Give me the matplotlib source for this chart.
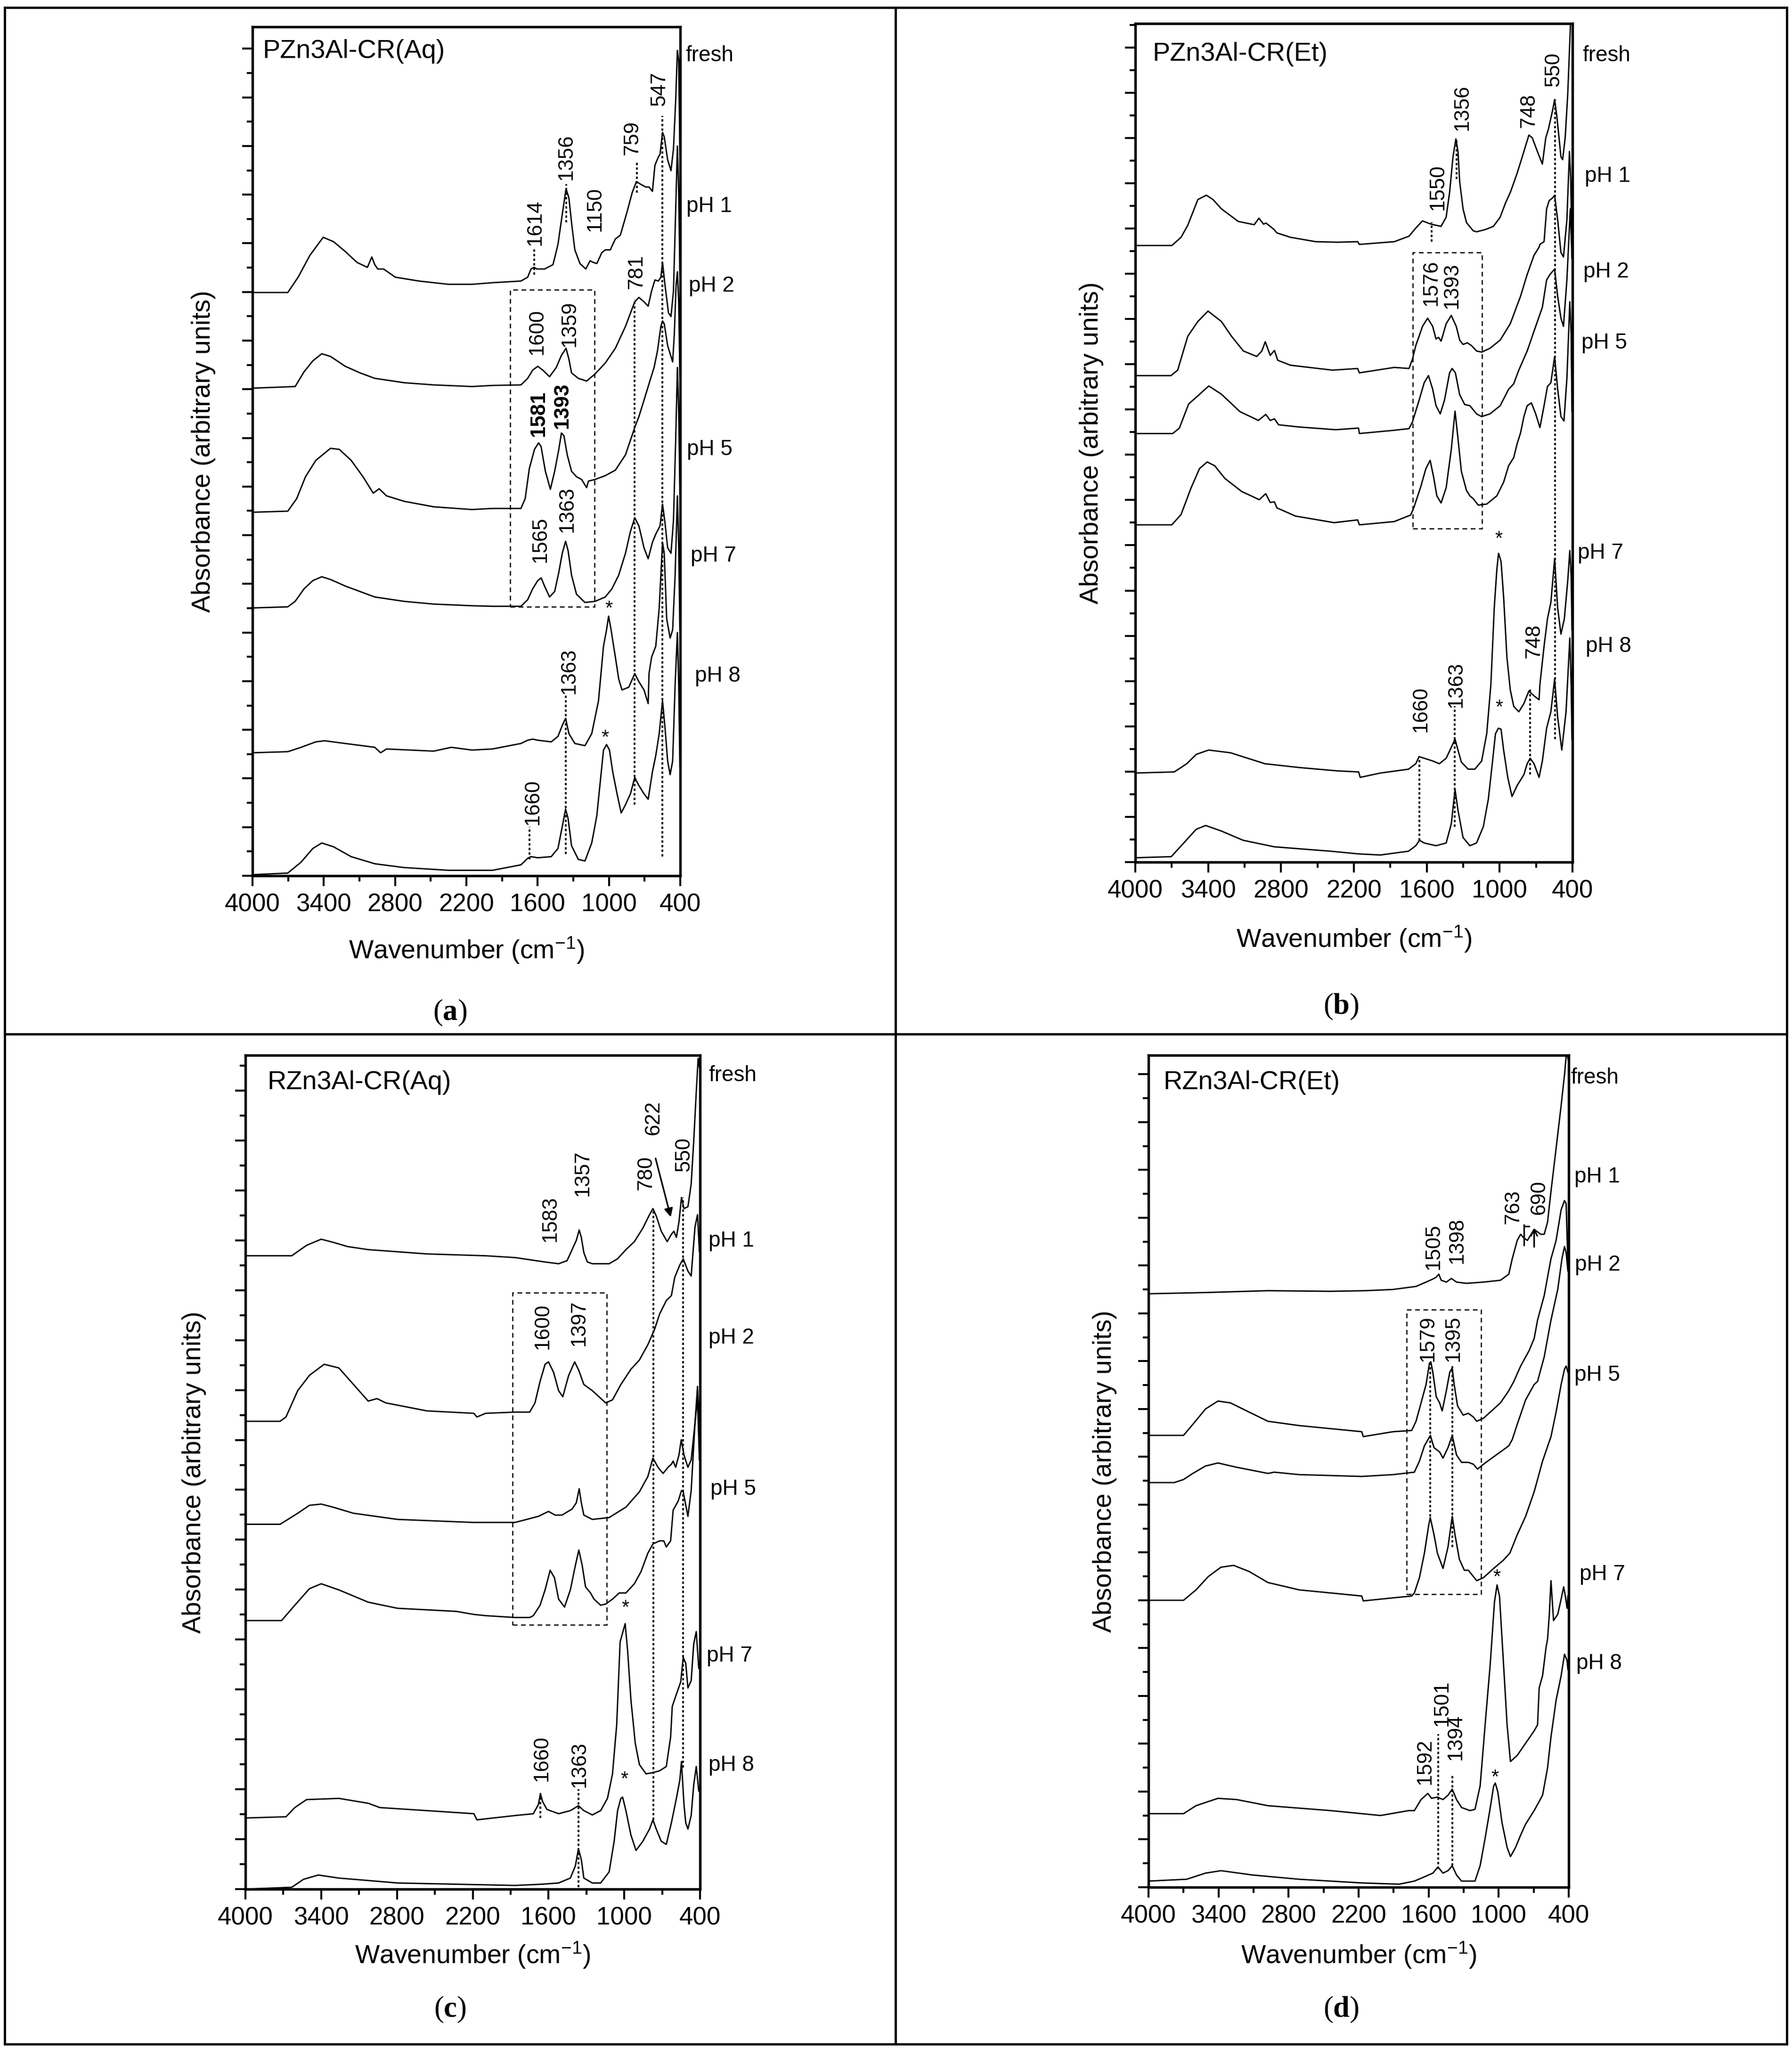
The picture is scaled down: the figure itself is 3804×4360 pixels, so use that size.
import numpy as np
import matplotlib.pyplot as plt
from matplotlib.ticker import FixedLocator, MultipleLocator
from matplotlib.lines import Line2D
from matplotlib.patches import Rectangle

plt.rcParams['font.family'] = ['Liberation Sans', 'DejaVu Sans']
plt.rcParams['mathtext.fontset'] = 'custom'
plt.rcParams['mathtext.rm'] = 'Liberation Sans'
plt.rcParams['mathtext.it'] = 'Liberation Sans:italic'
plt.rcParams['mathtext.bf'] = 'Liberation Serif:bold'

# ---------------- data (wavenumber / absorbance, arbitrary units) ----------------
SAMPLES = ['fresh', 'pH 1', 'pH 2', 'pH 5', 'pH 7', 'pH 8']
XMAJ = [4000, 3400, 2800, 2200, 1600, 1000, 400]
XMIN = [3700, 3100, 2500, 1900, 1300, 700]

# (a) PZn3Al-CR(Aq)
A_FRESH_WN = [4000, 3703, 3616, 3517, 3405, 3318, 3219, 3120, 3033, 2996, 2971, 2946, 2897, 2798, 2599, 2351, 2153, 1980, 1741, 1684, 1656, 1630, 1606, 1542, 1471, 1429, 1393, 1361, 1337, 1315, 1287, 1244, 1195, 1159, 1131, 1102, 1060, 1031, 989, 946, 904, 847, 804, 769, 733, 691, 663, 634, 613, 584, 570, 549, 535, 506, 478, 457, 438, 424, 413, 403]
A_FRESH_AB = [1067, 1067, 1095, 1135, 1168, 1160, 1142, 1122, 1113, 1132, 1118, 1110, 1110, 1095, 1088, 1082, 1082, 1085, 1088, 1095, 1110, 1113, 1110, 1110, 1118, 1155, 1210, 1257, 1240, 1195, 1145, 1120, 1110, 1125, 1122, 1120, 1140, 1145, 1145, 1165, 1172, 1215, 1250, 1270, 1265, 1260, 1260, 1252, 1300, 1315, 1320, 1360, 1352, 1310, 1290, 1330, 1420, 1510, 1490, 1320]
A_PH1_WN = [4000, 3641, 3566, 3492, 3417, 3343, 3219, 3095, 2971, 2723, 2475, 2153, 1980, 1741, 1684, 1642, 1599, 1557, 1500, 1443, 1400, 1361, 1337, 1315, 1258, 1188, 1117, 1031, 946, 861, 783, 748, 705, 670, 641, 613, 584, 563, 549, 528, 499, 478, 457, 438, 424, 413, 403]
A_PH1_AB = [892, 895, 922, 942, 955, 950, 932, 920, 910, 902, 898, 895, 897, 898, 910, 925, 932, 925, 913, 930, 952, 965, 945, 920, 910, 905, 918, 938, 965, 1005, 1050, 1058, 1050, 1042, 1070, 1090, 1088, 1095, 1122, 1080, 1030, 1023, 1070, 1220, 1335, 1250, 1100]
A_PH2_WN = [4000, 3703, 3628, 3554, 3467, 3343, 3269, 3170, 3070, 2984, 2934, 2872, 2723, 2475, 2153, 1980, 1741, 1705, 1670, 1627, 1592, 1571, 1535, 1493, 1457, 1422, 1400, 1379, 1351, 1315, 1273, 1230, 1188, 1173, 1117, 1031, 946, 861, 783, 748, 705, 663, 620, 592, 563, 549, 535, 506, 464, 450, 435, 424, 413, 403]
A_PH2_AB = [665, 667, 690, 730, 760, 782, 780, 760, 730, 700, 708, 695, 685, 675, 670, 672, 672, 690, 745, 780, 792, 785, 740, 707, 740, 780, 810, 805, 770, 740, 730, 725, 710, 722, 725, 732, 742, 770, 820, 840, 870, 900, 930, 960, 1005, 1015, 1010, 970, 940, 990, 1080, 1105, 1050, 910]
A_PH5_WN = [4000, 3703, 3641, 3566, 3492, 3417, 3343, 3219, 3095, 2971, 2723, 2475, 2153, 1980, 1741, 1684, 1642, 1599, 1571, 1542, 1500, 1457, 1422, 1393, 1365, 1344, 1315, 1273, 1202, 1117, 1031, 975, 918, 861, 819, 783, 748, 705, 670, 634, 606, 570, 549, 528, 506, 478, 457, 438, 424, 413, 403]
A_PH5_AB = [490, 492, 502, 525, 540, 547, 542, 530, 520, 510, 502, 497, 494, 493, 493, 505, 525, 540, 545, 530, 510, 520, 555, 590, 612, 595, 550, 515, 500, 502, 510, 525, 550, 590, 630, 655, 640, 600, 580, 610, 625, 640, 680, 645, 600, 590, 650, 800, 930, 850, 700]
A_PH7_WN = [4000, 3703, 3591, 3467, 3393, 3219, 2971, 2922, 2872, 2475, 2327, 2153, 1980, 1741, 1684, 1642, 1599, 1486, 1429, 1393, 1365, 1337, 1287, 1202, 1145, 1088, 1046, 1020, 1003, 982, 946, 918, 890, 833, 783, 748, 705, 670, 663, 641, 606, 577, 549, 535, 514, 485, 464, 443, 424, 413, 403]
A_PH7_AB = [225, 227, 235, 245, 247, 242, 235, 225, 232, 228, 235, 230, 232, 242, 248, 250, 248, 245, 255, 275, 288, 260, 242, 238, 260, 320, 420, 450, 475, 450, 400, 360, 340, 345, 370, 355, 340, 315, 370, 400, 420, 490, 610, 590, 470, 435, 450, 550, 695, 600, 450]
A_PH8_WN = [4000, 3703, 3591, 3492, 3417, 3318, 3170, 2971, 2723, 2351, 1980, 1741, 1684, 1656, 1599, 1486, 1429, 1393, 1365, 1344, 1315, 1258, 1202, 1145, 1102, 1074, 1046, 1020, 996, 968, 932, 897, 861, 819, 783, 748, 705, 670, 634, 606, 577, 549, 528, 506, 485, 464, 443, 424, 413, 403]
A_PH8_AB = [2, 5, 25, 50, 60, 53, 35, 22, 15, 10, 10, 20, 32, 35, 33, 35, 50, 90, 122, 105, 55, 30, 27, 60, 110, 170, 230, 240, 230, 190, 150, 115, 130, 150, 180, 165, 150, 140, 190, 220, 260, 320, 270, 210, 185, 210, 350, 445, 350, 200]

# (b) PZn3Al-CR(Et)
B_FRESH_WN = [4000, 3699, 3623, 3568, 3485, 3415, 3360, 3291, 3152, 3021, 2982, 2944, 2924, 2861, 2834, 2723, 2515, 2335, 2169, 2155, 1867, 1746, 1690, 1635, 1565, 1524, 1482, 1440, 1412, 1384, 1360, 1343, 1329, 1301, 1273, 1218, 1190, 1120, 1051, 995, 953, 912, 856, 800, 759, 731, 689, 648, 620, 599, 564, 547, 529, 495, 481, 460, 439, 418, 408]
B_FRESH_AB = [1128, 1128, 1143, 1165, 1212, 1220, 1212, 1195, 1172, 1166, 1178, 1167, 1169, 1158, 1151, 1143, 1135, 1134, 1135, 1130, 1135, 1145, 1160, 1173, 1167, 1165, 1163, 1180, 1225, 1290, 1323, 1300, 1245, 1195, 1170, 1155, 1153, 1157, 1163, 1180, 1205, 1225, 1260, 1300, 1330, 1325, 1300, 1277, 1325, 1340, 1375, 1395, 1365, 1290, 1285, 1325, 1405, 1525, 1625]
B_PH1_WN = [4000, 3706, 3651, 3568, 3485, 3401, 3291, 3208, 3110, 3000, 2958, 2930, 2889, 2854, 2827, 2723, 2376, 2169, 2155, 1867, 1746, 1718, 1690, 1635, 1593, 1551, 1524, 1503, 1482, 1440, 1398, 1357, 1329, 1301, 1266, 1232, 1190, 1148, 1079, 995, 912, 828, 773, 717, 675, 668, 634, 613, 592, 564, 547, 522, 495, 474, 446, 425, 414, 404]
B_PH1_AB = [890, 890, 900, 962, 989, 1008, 989, 962, 935, 925, 935, 952, 927, 936, 918, 909, 900, 903, 895, 905, 903, 920, 945, 980, 995, 980, 957, 960, 953, 985, 1000, 980, 955, 947, 950, 945, 935, 933, 940, 955, 985, 1035, 1075, 1110, 1125, 1130, 1135, 1195, 1210, 1215, 1220, 1175, 1115, 1107, 1175, 1300, 1245, 1105]
B_PH2_WN = [4000, 3692, 3637, 3561, 3485, 3395, 3291, 3138, 2986, 2926, 2889, 2854, 2820, 2653, 2349, 2162, 2155, 1867, 1746, 1718, 1663, 1621, 1586, 1551, 1524, 1489, 1454, 1412, 1391, 1364, 1329, 1287, 1245, 1190, 1148, 1079, 995, 926, 884, 842, 773, 703, 648, 613, 585, 547, 522, 495, 474, 446, 418, 404]
B_PH2_AB = [784, 784, 794, 838, 853, 871, 856, 824, 808, 819, 808, 811, 800, 796, 791, 794, 784, 790, 793, 805, 845, 877, 890, 865, 835, 820, 845, 895, 903, 895, 855, 837, 835, 820, 815, 820, 835, 865, 875, 900, 935, 980, 1015, 1065, 1075, 1085, 1035, 995, 980, 1065, 1195, 1105]
B_PH5_WN = [4000, 3699, 3623, 3540, 3471, 3408, 3346, 3263, 3124, 2979, 2926, 2889, 2854, 2834, 2681, 2363, 2169, 2155, 1867, 1732, 1704, 1649, 1607, 1572, 1544, 1517, 1482, 1440, 1398, 1367, 1343, 1315, 1273, 1245, 1218, 1176, 1106, 1023, 967, 926, 884, 856, 828, 800, 773, 738, 703, 668, 634, 606, 578, 547, 522, 495, 470, 446, 422, 411, 404]
B_PH5_AB = [617, 617, 636, 685, 720, 732, 725, 702, 678, 663, 674, 658, 659, 648, 633, 621, 626, 617, 623, 635, 650, 687, 720, 735, 705, 670, 657, 685, 755, 825, 775, 715, 680, 670, 665, 653, 655, 670, 695, 725, 740, 765, 785, 815, 835, 840, 820, 795, 835, 870, 877, 925, 865, 815, 807, 885, 1025, 965, 825]
B_PH7_WN = [4000, 3679, 3576, 3499, 3396, 3216, 2933, 2650, 2341, 2161, 2148, 1981, 1750, 1690, 1663, 1621, 1551, 1496, 1440, 1398, 1367, 1343, 1315, 1259, 1204, 1148, 1106, 1072, 1044, 1023, 1009, 988, 967, 940, 912, 884, 842, 800, 759, 745, 710, 675, 668, 634, 606, 578, 547, 522, 495, 467, 439, 422, 411, 404]
B_PH7_AB = [163, 165, 180, 197, 205, 200, 180, 173, 167, 165, 155, 163, 170, 180, 193, 190, 185, 180, 190, 210, 225, 205, 183, 170, 170, 185, 235, 325, 465, 535, 565, 550, 485, 375, 315, 285, 275, 290, 313, 310, 303, 297, 325, 395, 445, 475, 555, 465, 417, 445, 515, 570, 525, 425]
B_PH8_WN = [4000, 3704, 3601, 3499, 3421, 3293, 3113, 2856, 2393, 2161, 1981, 1750, 1690, 1660, 1621, 1524, 1440, 1398, 1367, 1343, 1301, 1245, 1190, 1134, 1093, 1058, 1034, 1009, 988, 967, 933, 898, 856, 800, 773, 748, 717, 675, 648, 613, 578, 547, 522, 488, 453, 422, 411, 404]
B_PH8_AB = [8, 10, 35, 60, 67, 57, 40, 28, 20, 15, 13, 20, 30, 40, 35, 30, 35, 70, 133, 95, 45, 30, 35, 65, 115, 185, 235, 245, 243, 205, 155, 120, 140, 160, 180, 190, 180, 155, 185, 245, 275, 335, 265, 205, 275, 410, 325, 225]

# (c) RZn3Al-CR(Aq)
C_FRESH_WN = [4000, 3633, 3516, 3400, 3307, 3191, 3028, 2563, 2098, 1865, 1633, 1520, 1453, 1413, 1380, 1357, 1340, 1320, 1293, 1253, 1120, 1053, 987, 920, 853, 800, 773, 747, 707, 660, 627, 607, 587, 567, 547, 527, 496, 470, 450, 430, 415, 405]
C_FRESH_AB = [1033, 1033, 1050, 1060, 1055, 1048, 1043, 1036, 1033, 1030, 1023, 1020, 1025, 1043, 1058, 1075, 1063, 1038, 1023, 1020, 1020, 1028, 1043, 1056, 1078, 1100, 1110, 1098, 1073, 1056, 1068, 1073, 1063, 1088, 1128, 1110, 1113, 1150, 1220, 1300, 1355, 1340]
C_PH1_WN = [4000, 3726, 3679, 3586, 3493, 3377, 3260, 3144, 3028, 2958, 2888, 2563, 2191, 2167, 2098, 1865, 1749, 1707, 1667, 1627, 1600, 1560, 1520, 1487, 1440, 1393, 1360, 1320, 1253, 1200, 1147, 1093, 1027, 947, 880, 813, 760, 720, 667, 627, 600, 560, 533, 496, 470, 440, 420, 405]
C_PH1_AB = [763, 763, 770, 813, 838, 856, 850, 823, 796, 800, 793, 780, 776, 770, 776, 778, 778, 793, 828, 856, 860, 843, 813, 803, 838, 860, 846, 823, 813, 803, 793, 798, 823, 848, 863, 888, 913, 938, 960, 968, 998, 1018, 1028, 1008, 1000, 1080, 1100, 1040]
C_PH2_WN = [4000, 3726, 3586, 3493, 3400, 3307, 3144, 2795, 2191, 1865, 1680, 1600, 1547, 1493, 1413, 1380, 1357, 1340, 1320, 1253, 1120, 987, 880, 813, 773, 733, 693, 653, 627, 613, 593, 567, 549, 527, 496, 470, 440, 420, 405]
C_PH2_AB = [595, 595, 613, 626, 628, 623, 613, 603, 598, 598, 608, 616, 610, 610, 620, 630, 653, 630, 610, 603, 606, 623, 648, 673, 703, 688, 678, 688, 693, 698, 688, 708, 733, 708, 688, 700, 760, 820, 760]
C_PH5_WN = [4000, 3714, 3609, 3493, 3400, 3260, 3028, 2795, 2330, 2191, 2098, 1865, 1749, 1720, 1667, 1627, 1587, 1553, 1520, 1473, 1427, 1387, 1360, 1333, 1307, 1267, 1240, 1187, 1147, 1093, 1040, 987, 920, 867, 813, 773, 720, 687, 667, 633, 613, 573, 547, 533, 496, 470, 440, 420, 405]
C_PH5_AB = [438, 438, 463, 490, 498, 488, 468, 458, 453, 448, 446, 443, 443, 446, 463, 488, 520, 508, 473, 460, 488, 528, 553, 528, 493, 483, 473, 463, 465, 473, 483, 483, 498, 518, 548, 563, 568, 568, 558, 568, 618, 633, 650, 648, 608, 650, 760, 800, 700]
C_PH7_WN = [4000, 3679, 3609, 3516, 3260, 3028, 2935, 2563, 2191, 2167, 1865, 1720, 1680, 1664, 1647, 1613, 1520, 1427, 1363, 1320, 1253, 1187, 1133, 1093, 1060, 1033, 1013, 993, 973, 947, 913, 880, 827, 773, 720, 667, 633, 620, 587, 553, 533, 513, 496, 470, 450, 430, 410]
C_PH7_AB = [116, 118, 133, 146, 148, 140, 133, 128, 123, 113, 120, 123, 138, 156, 143, 130, 123, 128, 136, 128, 121, 128, 148, 188, 268, 403, 418, 433, 388, 308, 238, 203, 188, 190, 193, 200, 248, 298, 318, 338, 378, 368, 328, 340, 400, 420, 360]
C_PH8_WN = [4000, 3633, 3540, 3423, 3260, 2795, 1865, 1653, 1520, 1427, 1387, 1363, 1340, 1320, 1253, 1187, 1120, 1080, 1053, 1027, 1013, 987, 947, 907, 853, 800, 773, 747, 707, 667, 627, 587, 560, 547, 527, 513, 496, 470, 450, 430, 410]
C_PH8_AB = [0, 3, 16, 23, 18, 10, 6, 8, 10, 18, 38, 66, 48, 18, 10, 10, 28, 78, 128, 148, 150, 128, 88, 63, 78, 98, 113, 98, 78, 73, 108, 148, 178, 208, 138, 108, 98, 120, 170, 200, 160]

# (d) RZn3Al-CR(Et)
D_FRESH_WN = [4000, 3512, 2977, 2441, 2142, 1905, 1708, 1622, 1564, 1535, 1513, 1492, 1448, 1405, 1361, 1275, 1130, 985, 913, 884, 841, 812, 790, 754, 696, 639, 610, 581, 552, 508, 465, 436, 422, 414, 400]
D_FRESH_AB = [968, 970, 973, 972, 973, 975, 980, 987, 992, 995, 1000, 990, 987, 993, 987, 985, 987, 990, 1000, 1025, 1055, 1065, 1060, 1055, 1073, 1065, 1065, 1085, 1135, 1205, 1275, 1325, 1355, 1360, 1345]
D_PH1_WN = [4000, 3700, 3620, 3512, 3405, 3298, 3138, 2977, 2709, 2173, 2160, 1905, 1745, 1708, 1665, 1622, 1593, 1581, 1564, 1535, 1506, 1484, 1448, 1419, 1398, 1381, 1352, 1304, 1260, 1217, 1188, 1130, 1072, 985, 913, 870, 812, 740, 696, 667, 610, 552, 508, 465, 436, 422, 407]
D_PH1_AB = [737, 737, 755, 780, 793, 790, 775, 760, 753, 743, 735, 743, 745, 760, 790, 820, 855, 857, 840, 800, 790, 777, 810, 840, 847, 820, 785, 770, 773, 767, 760, 765, 775, 790, 810, 825, 850, 875, 895, 925, 965, 1025, 1055, 1105, 1120, 1115, 1015]
D_PH2_WN = [4000, 3780, 3700, 3620, 3512, 3405, 3245, 2977, 2923, 2709, 2173, 1905, 1722, 1679, 1636, 1585, 1554, 1506, 1477, 1434, 1398, 1361, 1318, 1260, 1217, 1181, 1130, 1058, 985, 913, 884, 841, 769, 696, 667, 610, 552, 494, 458, 436, 422, 407]
D_PH2_AB = [660, 660, 665, 675, 687, 692, 685, 675, 677, 673, 670, 673, 677, 695, 720, 737, 717, 710, 700, 717, 737, 705, 693, 693, 690, 682, 690, 700, 710, 720, 730, 755, 795, 820, 825, 865, 925, 975, 1025, 1045, 1035, 1005]
D_PH5_WN = [4000, 3700, 3593, 3486, 3379, 3271, 3138, 2977, 2709, 2173, 2160, 1905, 1745, 1722, 1679, 1636, 1600, 1586, 1554, 1525, 1477, 1434, 1398, 1374, 1337, 1294, 1260, 1188, 1130, 1043, 962, 904, 841, 769, 696, 624, 552, 508, 465, 436, 422, 407]
D_PH5_AB = [468, 468, 485, 507, 522, 525, 515, 497, 485, 475, 467, 472, 475, 480, 505, 545, 590, 603, 575, 545, 520, 555, 605, 575, 535, 517, 517, 500, 505, 520, 533, 545, 575, 605, 645, 695, 735, 775, 820, 845, 850, 840]
D_PH7_WN = [4000, 3700, 3593, 3405, 3245, 2977, 2441, 2173, 2012, 1771, 1722, 1665, 1607, 1575, 1525, 1477, 1434, 1398, 1361, 1318, 1246, 1203, 1159, 1116, 1072, 1036, 1014, 993, 971, 928, 899, 841, 769, 696, 667, 653, 624, 595, 581, 566, 552, 530, 494, 465, 443, 429, 414, 407]
D_PH7_AB = [120, 120, 133, 145, 143, 133, 125, 120, 117, 125, 125, 143, 153, 145, 147, 143, 150, 160, 143, 130, 125, 127, 165, 265, 365, 465, 493, 475, 405, 265, 205, 215, 235, 255, 265, 325, 345, 390, 405, 445, 500, 435, 445, 470, 490, 475, 455, 475]
D_PH8_WN = [4000, 3673, 3512, 3379, 3111, 2709, 2173, 1853, 1722, 1636, 1564, 1520, 1477, 1434, 1398, 1361, 1318, 1203, 1159, 1116, 1072, 1043, 1029, 1007, 971, 928, 899, 855, 812, 769, 696, 624, 581, 552, 508, 465, 436, 414, 407]
D_PH8_AB = [10, 13, 23, 27, 20, 13, 7, 5, 10, 17, 23, 33, 23, 27, 35, 20, 10, 10, 35, 80, 130, 165, 170, 155, 105, 65, 50, 65, 85, 103, 125, 150, 195, 245, 305, 345, 380, 370, 355]

# peak labels: (text, wavenumber, absorbance, bold)
A_PEAKS = [('1614', 1620, 1195, False), ('1356', 1358, 1315, False), ('1150', 1117, 1220, False),
           ('759', 804, 1350, False), ('547', 577, 1440, False), ('781', 769, 1105, False),
           ('1600', 1606, 995, False), ('1359', 1330, 1010, False), ('1581', 1592, 845, True),
           ('1393', 1393, 860, True), ('1565', 1578, 615, False), ('1363', 1351, 670, False),
           ('1363', 1337, 375, False), ('1660', 1642, 135, False)]
A_DOTS = [(1630, 1100, 1150), (1361, 1195, 1265), (765, 1250, 1305), (552, 35, 1390),
          (783, 130, 1055), (1365, 40, 330), (1670, 30, 90)]
A_STARS = [(1003, 488), (1031, 252)]
A_BOX = (1830, 1120, 492, 1072)

B_PEAKS = [('1550', 1510, 1235, False), ('1356', 1308, 1380, False), ('748', 759, 1375, False),
           ('550', 557, 1450, False), ('1576', 1565, 1060, False), ('1393', 1391, 1055, False),
           ('748', 717, 405, False), ('1363', 1357, 325, False), ('1660', 1649, 280, False)]
B_DOTS = [(1558, 1135, 1170), (1354, 1250, 1320), (543, 225, 1395), (748, 160, 320),
          (1371, 65, 285), (1660, 40, 190)]
B_STARS = [(1009, 590), (1002, 282)]
B_BOX = (1714, 1145, 610, 1115)

C_PEAKS = [('1583', 1587, 1093, False), ('1357', 1327, 1168, False), ('780', 827, 1168, False),
           ('622', 767, 1258, False), ('550', 527, 1198, False), ('1600', 1647, 918, False),
           ('1397', 1360, 923, False), ('1660', 1653, 213, False), ('1363', 1353, 203, False)]
C_DOTS = [(771, 113, 1108), (536, 198, 1128), (1664, 116, 153), (1363, 3, 163)]
C_STARS = [(993, 458), (1000, 178)]
C_BOX = (1884, 1137, 431, 973)

D_PEAKS = [('1505', 1557, 1045, False), ('1398', 1354, 1055, False), ('763', 877, 1110, False),
           ('690', 653, 1125, False), ('1579', 1607, 895, False), ('1395', 1390, 895, False),
           ('1592', 1629, 205, False), ('1501', 1484, 300, False), ('1394', 1369, 245, False)]
D_DOTS = [(1588, 605, 855), (1398, 555, 850), (1518, 30, 250), (1398, 35, 185)]
D_STARS = [(1017, 505), (1032, 178)]
D_BOX = (1788, 1152, 478, 942)

# sample label heights at the right edge
A_SIDE = [1500, 1225, 1079, 780, 585, 365]
B_SIDE = [1475, 1255, 1080, 950, 565, 395]
C_SIDE = [1327, 1057, 899, 652, 380, 202]
D_SIDE = [1320, 1159, 1015, 835, 510, 365]

# ---------------- figure ----------------
W, H, DPI = 3804, 4360, 300
fig = plt.figure(figsize=(W / DPI, H / DPI), dpi=DPI)


def px_axes(x0, x1, y0, y1):
    return fig.add_axes([x0 / W, 1 - y1 / H, (x1 - x0) / W, (y1 - y0) / H])


def ftext(x, y, s, **kw):
    return fig.text(x / W, 1 - y / H, s, **kw)


def panel(ax, top, step, spectra, title, tpos, peaks, dots, stars, box, side, side_dx):
    ax.set_xlim(4000, 400)
    ax.set_ylim(0, top)
    for wn, ab in spectra:
        ax.plot(wn, ab, color='black', lw=0.7)
    ax.xaxis.set_major_locator(FixedLocator(XMAJ))
    ax.xaxis.set_minor_locator(FixedLocator(XMIN))
    ax.set_xticklabels([str(v) for v in XMAJ])
    ax.yaxis.set_major_locator(MultipleLocator(2 * step))
    ax.yaxis.set_minor_locator(MultipleLocator(step))
    ax.tick_params(which='both', direction='out', top=False, right=False, width=1.0)
    ax.tick_params(which='major', length=5.3)
    ax.tick_params(which='minor', length=2.9)
    ax.tick_params(axis='y', labelleft=False)
    ax.tick_params(axis='x', labelsize=12.7, pad=3.5)
    for s in ax.spines.values():
        s.set_linewidth(1.3)
    ax.text(tpos[0], tpos[1], title, transform=ax.transAxes, fontsize=13.4, va='center', ha='left')
    for txt, wn, ab, bold in peaks:
        ax.text(wn, ab, txt, rotation=90, ha='center', va='center', fontsize=10.5,
                fontweight='bold' if bold else 'normal')
    for wn, a0, a1 in dots:
        ax.plot([wn, wn], [a0, a1], color='black', lw=0.9, ls=(0, (1.3, 1.3)))
    for wn, ab in stars:
        ax.text(wn, ab, '*', ha='center', va='center', fontsize=10)
    x0, x1, y0, y1 = box
    ax.add_patch(Rectangle((x0, y0), x1 - x0, y1 - y0, fill=False, lw=0.6,
                           ls=(0, (4, 3)), ec='black'))
    for name, yv, dx in zip(SAMPLES, side, side_dx):
        ax.annotate(name, xy=(1, yv), xycoords=('axes fraction', 'data'),
                    xytext=(dx * 72 / DPI, 0), textcoords='offset points',
                    fontsize=11, va='center', ha='left', annotation_clip=False)


ax_a = px_axes(536, 1444, 57, 1859)
panel(ax_a, 1553, 44.5,
      [(A_FRESH_WN, A_FRESH_AB), (A_PH1_WN, A_PH1_AB), (A_PH2_WN, A_PH2_AB),
       (A_PH5_WN, A_PH5_AB), (A_PH7_WN, A_PH7_AB), (A_PH8_WN, A_PH8_AB)],
      'PZn3Al-CR(Aq)', (0.023, 0.971), A_PEAKS, A_DOTS, A_STARS, A_BOX, A_SIDE,
      [11, 13, 18, 14, 22, 31])

ax_b = px_axes(2410, 3338, 50, 1830)
panel(ax_b, 1534, 41.4,
      [(B_FRESH_WN, B_FRESH_AB), (B_PH1_WN, B_PH1_AB), (B_PH2_WN, B_PH2_AB),
       (B_PH5_WN, B_PH5_AB), (B_PH7_WN, B_PH7_AB), (B_PH8_WN, B_PH8_AB)],
      'PZn3Al-CR(Et)', (0.039, 0.9635), B_PEAKS, B_DOTS, B_STARS, B_BOX, B_SIDE,
      [21, 26, 23, 19, 11, 28])

ax_c = px_axes(521, 1486, 2240, 4010)
panel(ax_c, 1360, 40.7,
      [(C_FRESH_WN, C_FRESH_AB), (C_PH1_WN, C_PH1_AB), (C_PH2_WN, C_PH2_AB),
       (C_PH5_WN, C_PH5_AB), (C_PH7_WN, C_PH7_AB), (C_PH8_WN, C_PH8_AB)],
      'RZn3Al-CR(Aq)', (0.048, 0.967), C_PEAKS, C_DOTS, C_STARS, C_BOX, C_SIDE,
      [18, 18, 18, 22, 14, 18])
ax_c.annotate('', xy=(624, 1090), xytext=(760, 1198),
              arrowprops=dict(arrowstyle='-|>', lw=0.8, color='black', mutation_scale=9))

ax_d = px_axes(2438, 3330, 2240, 4006)
panel(ax_d, 1357, 39.0,
      [(D_FRESH_WN, D_FRESH_AB), (D_PH1_WN, D_PH1_AB), (D_PH2_WN, D_PH2_AB),
       (D_PH5_WN, D_PH5_AB), (D_PH7_WN, D_PH7_AB), (D_PH8_WN, D_PH8_AB)],
      'RZn3Al-CR(Et)', (0.035, 0.967), D_PEAKS, D_DOTS, D_STARS, D_BOX, D_SIDE,
      [4, 12, 13, 12, 23, 16])
ax_d.plot([783, 783], [1047, 1080], color='black', lw=0.8)
ax_d.plot([783, 740], [1078, 1078], color='black', lw=0.8)
ax_d.annotate('', xy=(696, 1082), xytext=(696, 1038),
              arrowprops=dict(arrowstyle='->', lw=0.8, color='black', mutation_scale=8))

# axis titles and panel letters
XLAB = 'Wavenumber (cm$^{-1}$)'
YLAB = 'Absorbance (arbitrary units)'
for cx, cy in [(990, 2017), (2874, 1993), (1003, 4150), (2884, 4150)]:
    ftext(cx, cy, XLAB, fontsize=13.3, ha='center', va='center')
for cx, cy in [(432, 958), (2317, 940), (412, 3125), (2345, 3123)]:
    ftext(cx, cy, YLAB, fontsize=13.3, ha='center', va='center', rotation=90)
for s, cx, cy in [('a', 955, 2150), ('b', 2847, 2137), ('c', 955, 4266), ('d', 2847, 4266)]:
    ftext(cx, cy, '($\\mathbf{' + s + '}$)', fontsize=15, ha='center', va='center',
          family='Liberation Serif')

# table frame
for xs, ys in [([10, 3793], [16, 16]), ([10, 3793], [4339, 4339]), ([10, 10], [16, 4339]),
               ([3793, 3793], [16, 4339]), ([1901, 1901], [16, 4339]), ([10, 3793], [2195, 2195])]:
    fig.add_artist(Line2D([x / W for x in xs], [1 - y / H for y in ys],
                          color='black', lw=1.15))

fig.savefig('out.png', dpi=DPI)
